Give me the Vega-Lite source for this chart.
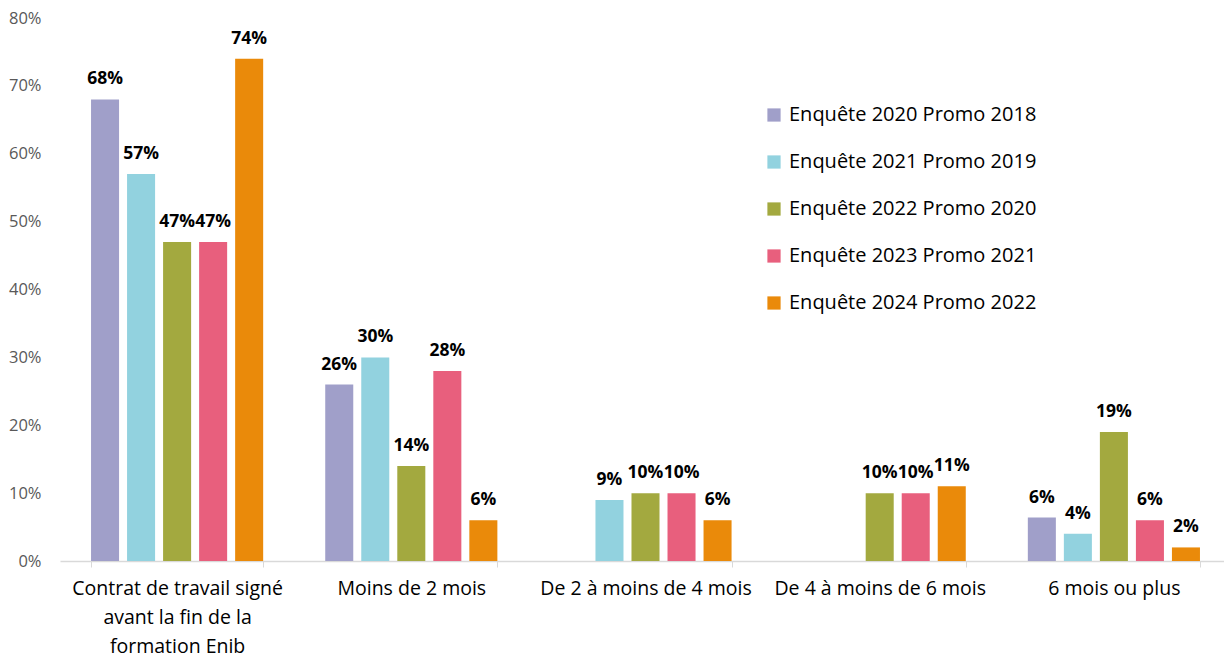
{
  "$schema": "https://vega.github.io/schema/vega-lite/v6.json",
  "autosize": "none",
  "width": 1171,
  "height": 543,
  "padding": {"left": 60, "top": 18, "right": 0, "bottom": 96},
  "background": "white",
  "config": {
    "font": "Open Sans",
    "view": {"stroke": null}
  },
  "data": {
    "values": [
      {"cat": "Contrat de travail signé|avant la fin de la|formation Enib", "serie": "Enquête 2020 Promo 2018", "v": 0.68},
      {"cat": "Contrat de travail signé|avant la fin de la|formation Enib", "serie": "Enquête 2021 Promo 2019", "v": 0.57},
      {"cat": "Contrat de travail signé|avant la fin de la|formation Enib", "serie": "Enquête 2022 Promo 2020", "v": 0.47},
      {"cat": "Contrat de travail signé|avant la fin de la|formation Enib", "serie": "Enquête 2023 Promo 2021", "v": 0.47},
      {"cat": "Contrat de travail signé|avant la fin de la|formation Enib", "serie": "Enquête 2024 Promo 2022", "v": 0.74},
      {"cat": "Moins de 2 mois", "serie": "Enquête 2020 Promo 2018", "v": 0.26},
      {"cat": "Moins de 2 mois", "serie": "Enquête 2021 Promo 2019", "v": 0.30},
      {"cat": "Moins de 2 mois", "serie": "Enquête 2022 Promo 2020", "v": 0.14},
      {"cat": "Moins de 2 mois", "serie": "Enquête 2023 Promo 2021", "v": 0.28},
      {"cat": "Moins de 2 mois", "serie": "Enquête 2024 Promo 2022", "v": 0.06},
      {"cat": "De 2 à moins de 4 mois", "serie": "Enquête 2021 Promo 2019", "v": 0.09},
      {"cat": "De 2 à moins de 4 mois", "serie": "Enquête 2022 Promo 2020", "v": 0.10},
      {"cat": "De 2 à moins de 4 mois", "serie": "Enquête 2023 Promo 2021", "v": 0.10},
      {"cat": "De 2 à moins de 4 mois", "serie": "Enquête 2024 Promo 2022", "v": 0.06},
      {"cat": "De 4 à moins de 6 mois", "serie": "Enquête 2022 Promo 2020", "v": 0.10},
      {"cat": "De 4 à moins de 6 mois", "serie": "Enquête 2023 Promo 2021", "v": 0.10},
      {"cat": "De 4 à moins de 6 mois", "serie": "Enquête 2024 Promo 2022", "v": 0.11},
      {"cat": "6 mois ou plus", "serie": "Enquête 2020 Promo 2018", "v": 0.064},
      {"cat": "6 mois ou plus", "serie": "Enquête 2021 Promo 2019", "v": 0.04},
      {"cat": "6 mois ou plus", "serie": "Enquête 2022 Promo 2020", "v": 0.19},
      {"cat": "6 mois ou plus", "serie": "Enquête 2023 Promo 2021", "v": 0.06},
      {"cat": "6 mois ou plus", "serie": "Enquête 2024 Promo 2022", "v": 0.02}
    ]
  },
  "encoding": {
    "x": {
      "field": "cat",
      "type": "nominal",
      "sort": ["Contrat de travail signé|avant la fin de la|formation Enib", "Moins de 2 mois", "De 2 à moins de 4 mois", "De 4 à moins de 6 mois", "6 mois ou plus"],
      "scale": {"paddingInner": 0.265, "paddingOuter": 0.1325},
      "axis": {
        "title": null,
        "labelAngle": 0,
        "labelExpr": "isValid(datum.value) ? split(datum.value, '|') : ''",
        "labelFontSize": 19.5,
        "labelColor": "#000000",
        "labelLineHeight": 29,
        "labelPadding": 12,
        "labelBaseline": "top",
        "domainColor": "#d9d9d9",
        "domainWidth": 1.3,
        "tickColor": "#d9d9d9",
        "tickSize": 6,
        "tickBand": "extent",
        "labelLimit": 300
      }
    },
    "xOffset": {
      "field": "serie",
      "type": "nominal",
      "scale": {"paddingInner": 0.222, "paddingOuter": 0}
    },
    "y": {
      "field": "v",
      "type": "quantitative",
      "scale": {"domain": [0, 0.8]},
      "axis": {
        "title": null,
        "format": ".0%",
        "values": [0, 0.1, 0.2, 0.3, 0.4, 0.5, 0.6, 0.7, 0.8],
        "grid": false,
        "domain": false,
        "ticks": false,
        "labelFontSize": 16.5,
        "labelColor": "#595959",
        "labelPadding": 19
      }
    }
  },
  "layer": [
    {
      "mark": {"type": "bar"},
      "encoding": {
        "color": {
          "field": "serie",
          "type": "nominal",
          "scale": {
            "domain": ["Enquête 2020 Promo 2018", "Enquête 2021 Promo 2019", "Enquête 2022 Promo 2020", "Enquête 2023 Promo 2021", "Enquête 2024 Promo 2022"],
            "range": ["#a09fc9", "#92d2df", "#a3a93f", "#e85f7d", "#ea8a0a"]
          },
          "legend": {
            "title": null,
            "orient": "none",
            "legendX": 704,
            "legendY": 87,
            "symbolType": "square",
            "symbolSize": 175,
            "symbolStrokeWidth": 0,
            "labelFontSize": 20,
            "labelColor": "#000000",
            "labelOffset": 5,
            "rowPadding": 27,
            "labelLimit": 400
          }
        }
      }
    },
    {
      "mark": {"type": "text", "baseline": "bottom", "dy": -11, "fontSize": 17.5, "fontWeight": "bold", "color": "#000000"},
      "encoding": {
        "text": {"field": "v", "type": "quantitative", "format": ".0%"}
      }
    }
  ]
}
